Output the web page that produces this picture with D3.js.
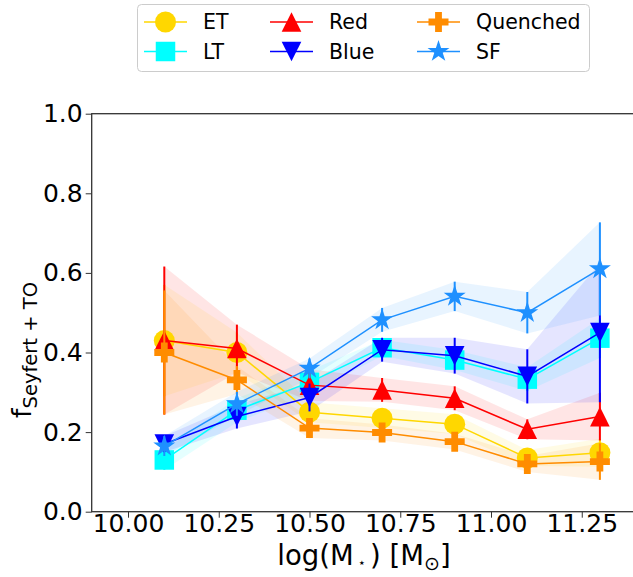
<!DOCTYPE html>
<html>
<head>
<meta charset="utf-8">
<script src="https://cdn.jsdelivr.net/npm/d3@7"></script>
<style>
  body { margin: 0; background: #fff; }
  text { font-family: "DejaVu Sans", sans-serif; fill: #000; }
</style>
</head>
<body>
<svg id="svg_fraction" width="633" height="577"></svg>
<script>
// stellar mass bins (log M*)
let massBins = [10.1, 10.3, 10.5, 10.7, 10.9, 11.1, 11.3];

// fraction of Seyfert + TO per class, with 1-sigma errors
let etFrac = [0.43, 0.40, 0.25, 0.235, 0.22, 0.135, 0.148];
let etErr = [0.14, 0.05, 0.025, 0.025, 0.025, 0.02, 0.035];
let ltFrac = [0.13, 0.255, 0.325, 0.412, 0.381, 0.333, 0.436];
let ltErr = [0.025, 0.03, 0.03, 0.02, 0.025, 0.03, 0.05];
let redFrac = [0.43, 0.41, 0.318, 0.306, 0.285, 0.207, 0.239];
let redErr = [0.186, 0.06, 0.04, 0.03, 0.03, 0.025, 0.06];
let blueFrac = [0.17, 0.239, 0.287, 0.407, 0.392, 0.34, 0.45];
let blueErr = [0.02, 0.03, 0.035, 0.03, 0.045, 0.068, 0.175];
let quenchedFrac = [0.40, 0.331, 0.21, 0.199, 0.176, 0.12, 0.126];
let quenchedErr = [0.156, 0.035, 0.025, 0.02, 0.02, 0.02, 0.046];
let sfFrac = [0.165, 0.271, 0.36, 0.482, 0.541, 0.50, 0.61];
let sfErr = [0.025, 0.03, 0.025, 0.03, 0.037, 0.052, 0.117];

let xTicks = [10.0, 10.25, 10.5, 10.75, 11.0, 11.25];
let yTicks = [0.0, 0.2, 0.4, 0.6, 0.8, 1.0];

// marker paths, centred on 0,0
function trianglePath(s, down) {
    let k = down ? -1 : 1;
    return "M0," + (-s * k) + "L" + s + "," + (s * k) + "L" + (-s) + "," + (s * k) + "Z";
}
function plusPath(a, w) {
    return "M" + (-w) + "," + (-a) + "H" + w + "V" + (-w) + "H" + a + "V" + w + "H" + w +
        "V" + a + "H" + (-w) + "V" + w + "H" + (-a) + "V" + (-w) + "H" + (-w) + "Z";
}
let markerPaths = {
    circle: d3.symbol(d3.symbolCircle, Math.PI * 10.5 * 10.5)(),
    square: d3.symbol(d3.symbolSquare, 19.5 * 19.5)(),
    up: trianglePath(9.8, false),
    down: trianglePath(9.8, true),
    plus: plusPath(10, 3.4),
    star: d3.symbol(d3.symbolStar, 150)()
};

let series = [
    {name: "ET", color: "#FFD700", marker: "circle", y: etFrac, err: etErr},
    {name: "LT", color: "#00FFFF", marker: "square", y: ltFrac, err: ltErr},
    {name: "Red", color: "#FF0000", marker: "up", y: redFrac, err: redErr},
    {name: "Blue", color: "#0000FF", marker: "down", y: blueFrac, err: blueErr},
    {name: "Quenched", color: "#FF8C00", marker: "plus", y: quenchedFrac, err: quenchedErr},
    {name: "SF", color: "#1E90FF", marker: "star", y: sfFrac, err: sfErr}
];

let plotLeft = 91.7, plotRight = 636.2, plotTop = 113.7, plotBottom = 511.7;

let svg = d3.select("#svg_fraction");

let x = d3.scaleLinear().domain([9.9, 11.4]).range([plotLeft, plotRight]);
let y = d3.scaleLinear().domain([0, 1]).range([plotBottom, plotTop]);

// shaded error bands (all under the lines)
let area = d3.area()
    .x(d => x(d.x))
    .y0(d => y(d.v - d.e))
    .y1(d => y(d.v + d.e));
let line = d3.line()
    .x(d => x(d.x))
    .y(d => y(d.v));

series.forEach(function (s) {
    s.points = massBins.map((m, i) => ({x: m, v: s.y[i], e: s.err[i]}));
});

svg.append("g")
    .selectAll("path")
    .data(series)
    .enter().append("path")
    .attr("d", s => area(s.points))
    .attr("fill", s => s.color)
    .attr("fill-opacity", 0.1)
    .attr("stroke", "none");

series.forEach(function (s) {
    let g = svg.append("g");
    g.selectAll("line")
        .data(s.points)
        .enter().append("line")
        .attr("x1", d => x(d.x))
        .attr("x2", d => x(d.x))
        .attr("y1", d => y(d.v - d.e))
        .attr("y2", d => y(d.v + d.e))
        .attr("stroke", s.color)
        .attr("stroke-width", 2);
    g.append("path")
        .attr("d", line(s.points))
        .attr("fill", "none")
        .attr("stroke", s.color)
        .attr("stroke-width", 1.5);
    g.selectAll(".mk")
        .data(s.points)
        .enter().append("path")
        .attr("class", "mk")
        .attr("transform", d => "translate(" + x(d.x) + "," + y(d.v) + ")")
        .attr("d", markerPaths[s.marker])
        .attr("fill", s.color);
});

// axes
let xAxis = svg.append("g")
    .attr("transform", "translate(0," + plotBottom + ")")
    .call(d3.axisBottom(x).tickValues(xTicks).tickFormat(d3.format(".2f")).tickSize(6).tickPadding(3));
let yAxis = svg.append("g")
    .attr("transform", "translate(" + plotLeft + ",0)")
    .call(d3.axisLeft(y).tickValues(yTicks).tickFormat(d3.format(".1f")).tickSize(6).tickPadding(3));

[xAxis, yAxis].forEach(function (a) {
    a.select(".domain").remove();
    a.selectAll(".tick line").attr("stroke", "#333").attr("stroke-width", 1);
    a.selectAll(".tick text").attr("font-size", 25).attr("font-family", "DejaVu Sans").attr("fill", "#000");
});
// pull the x tick labels up a little, as in the reference
xAxis.selectAll(".tick text").attr("y", 3);

svg.append("rect")
    .attr("x", plotLeft)
    .attr("y", plotTop)
    .attr("width", plotRight - plotLeft)
    .attr("height", plotBottom - plotTop)
    .attr("fill", "none")
    .attr("stroke", "#333")
    .attr("stroke-width", 1.3);

// axis labels
let xl = svg.append("text")
    .attr("x", (plotLeft + plotRight) / 2)
    .attr("y", 565)
    .attr("text-anchor", "middle")
    .attr("font-size", 27.5);
xl.append("tspan").text("log(M");
xl.append("tspan").attr("font-size", 13).attr("dy", 2).text(" \u22C6 ");
xl.append("tspan").attr("dy", -2).text(") [M");
xl.append("tspan").attr("font-size", 19).attr("dy", 5).text("\u2299");
xl.append("tspan").attr("dy", -5).text("]");

let yl = svg.append("text")
    .attr("transform", "translate(31,350) rotate(-90)")
    .attr("text-anchor", "middle")
    .attr("font-size", 27);
yl.append("tspan").text("f");
yl.append("tspan").attr("font-size", 19.5).attr("dy", 6).text("Seyfert + TO");

// legend
let legend = svg.append("g");
legend.append("rect")
    .attr("x", 137.5)
    .attr("y", 4.5)
    .attr("width", 452)
    .attr("height", 67)
    .attr("rx", 4)
    .attr("fill", "#fff")
    .attr("fill-opacity", 0.8)
    .attr("stroke", "#ccc");

let legendCols = [144, 270, 417];
let legendRows = [22, 51.5];
series.forEach(function (s, i) {
    let lx = legendCols[Math.floor(i / 2)];
    let ly = legendRows[i % 2];
    let item = legend.append("g").attr("transform", "translate(" + lx + "," + ly + ")");
    item.append("line")
        .attr("x1", 0).attr("x2", 43)
        .attr("stroke", s.color)
        .attr("stroke-width", 1.5);
    item.append("path")
        .attr("transform", "translate(21.5,0)")
        .attr("d", markerPaths[s.marker])
        .attr("fill", s.color);
    item.append("text")
        .attr("x", 59)
        .attr("dy", "0.36em")
        .attr("font-size", 20.5)
        .text(s.name);
});
</script>
</body>
</html>
